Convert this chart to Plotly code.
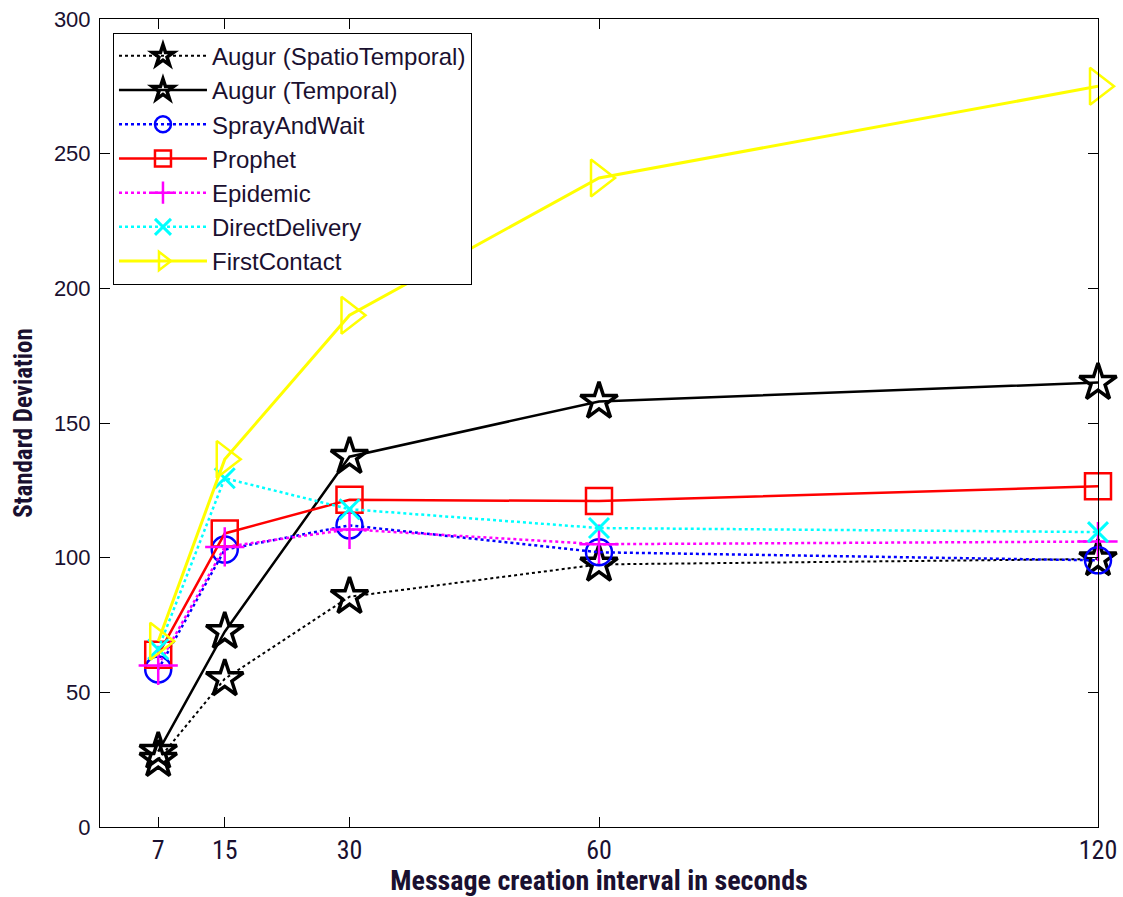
import plotly.graph_objects as go

# Message creation interval (seconds)
intervals = [7, 15, 30, 60, 120]

# Standard deviation per routing protocol
augur_spatiotemporal = [25, 55, 85.5, 97.5, 99.5]
augur_temporal = [28, 72.5, 137.5, 158, 165]
spray_and_wait = [58.5, 103, 112, 102, 99]
prophet = [64, 109, 121.5, 121, 126.5]
epidemic = [60, 104, 110.5, 105, 106]
direct_delivery = [66, 129.5, 118, 111, 109.5]
first_contact = [69, 136.5, 190, 241, 275]

y_ticks = [0, 50, 100, 150, 200, 250, 300]

NARROW = "Liberation Sans Narrow, Arial Narrow, Roboto Condensed, DejaVu Sans Condensed, sans-serif"
ARIAL = "Liberation Sans, Arial, sans-serif"
TEXT = "#1a1030"

series = [
    ("Augur (SpatioTemporal)", augur_spatiotemporal, "black", "dot", "star-open", 28, 2.0, 3.5),
    ("Augur (Temporal)", augur_temporal, "black", "solid", "star-open", 28, 2.5, 3.5),
    ("SprayAndWait", spray_and_wait, "#0000ff", "dot", "circle-open", 26, 2.5, 2.5),
    ("Prophet", prophet, "#ff0000", "solid", "square-open", 26, 2.5, 2.5),
    ("Epidemic", epidemic, "#ff00ff", "dot", "cross-thin-open", 28, 2.5, 2.5),
    ("DirectDelivery", direct_delivery, "#00ffff", "dot", "x-thin-open", 20, 2.5, 3),
    ("FirstContact", first_contact, "#ffff00", "solid", "triangle-right-open", 32, 3, 2.5),
]

fig = go.Figure()
for name, vals, color, dash, symbol, msize, lw, mlw in series:
    fig.add_trace(go.Scatter(
        x=intervals, y=vals, name=name, mode="lines+markers",
        line=dict(color=color, width=lw, dash=dash),
        marker=dict(symbol=symbol, size=msize, color=color,
                    line=dict(color=color, width=mlw)),
        cliponaxis=False,
    ))

fig.update_layout(
    width=1123, height=897,
    margin=dict(l=100, r=25, t=19, b=70),
    paper_bgcolor="white", plot_bgcolor="white",
    showlegend=True,
    legend=dict(
        x=0.013, y=0.983, xanchor="left", yanchor="top",
        bgcolor="white", bordercolor="black", borderwidth=1,
        font=dict(family=ARIAL, size=24, color=TEXT),
        itemwidth=88,
    ),
    xaxis=dict(
        range=[0, 120], tickvals=intervals, ticktext=[str(v) for v in intervals],
        ticks="inside", ticklen=10, tickcolor="black", tickwidth=1,
        showline=True, linecolor="black", linewidth=1, mirror="ticks",
        showgrid=False, zeroline=False, automargin=False,
        tickfont=dict(family=NARROW, size=26, color=TEXT),
        title=dict(text="<b>Message creation interval in seconds</b>",
                   font=dict(family=NARROW, size=28, color=TEXT), standoff=8),
    ),
    yaxis=dict(
        range=[0, 300], tickvals=y_ticks,
        ticks="inside", ticklen=10, tickcolor="black", tickwidth=1,
        showline=True, linecolor="black", linewidth=1, mirror="ticks",
        showgrid=False, zeroline=False, ticklabelstandoff=4, automargin=False,
        tickfont=dict(family=ARIAL, size=22, color=TEXT),
        title=dict(text="<b>Standard Deviation</b>",
                   font=dict(family=NARROW, size=25, color=TEXT), standoff=14),
    ),
)

fig.write_html("out.html")
